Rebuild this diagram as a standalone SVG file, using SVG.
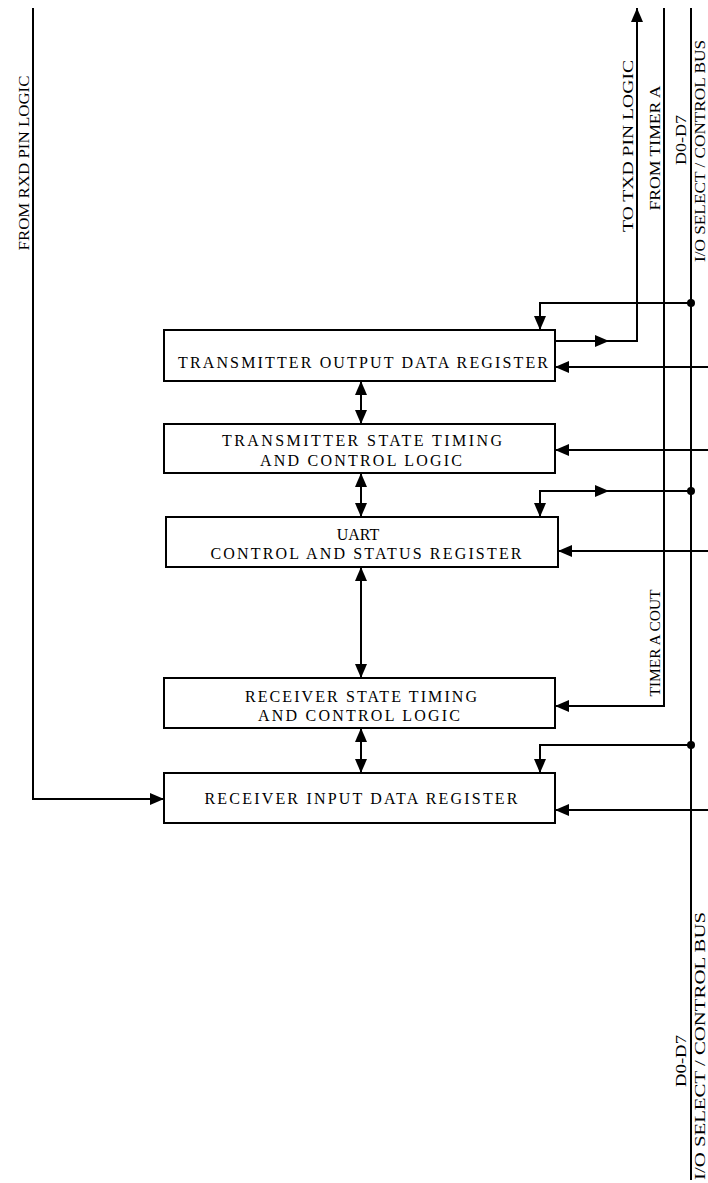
<svg xmlns="http://www.w3.org/2000/svg" width="708" height="1183" viewBox="0 0 708 1183">
<style>
.box{fill:#fff;stroke:#000;stroke-width:2}
.ln{fill:none;stroke:#000;stroke-width:2}
.t{font-family:"Liberation Serif","Times New Roman",serif;font-size:14px;fill:#000;text-anchor:middle}
.b{font-size:16px}
</style>
<defs>
<marker id="ah" markerUnits="userSpaceOnUse" markerWidth="14" markerHeight="12" refX="14" refY="6" orient="auto-start-reverse" viewBox="0 0 14 12">
<path d="M0,0 L14,6 L0,12 z" fill="#000"/>
</marker>
</defs>
<rect width="708" height="1183" fill="#fff"/>
<g id="connectors">
<path class="ln" d="M33,8 V799 H164" marker-end="url(#ah)"/>
<path class="ln" d="M555,341 H609" marker-end="url(#ah)"/>
<path class="ln" d="M608,341 H637 V8" marker-end="url(#ah)"/>
<path class="ln" d="M664,8 V706 H555" marker-end="url(#ah)"/>
<path class="ln" d="M691,8 V1180"/>
<circle cx="691" cy="303" r="4" fill="#000"/>
<circle cx="691" cy="491" r="4" fill="#000"/>
<circle cx="691" cy="745" r="4" fill="#000"/>
<path class="ln" d="M691,303 H540 V330" marker-end="url(#ah)"/>
<path class="ln" d="M708,367 H555" marker-end="url(#ah)"/>
<path class="ln" d="M708,450 H555" marker-end="url(#ah)"/>
<path class="ln" d="M540,517 V491 H609" marker-start="url(#ah)" marker-end="url(#ah)"/>
<path class="ln" d="M608,491 H691"/>
<path class="ln" d="M708,551 H558" marker-end="url(#ah)"/>
<path class="ln" d="M691,745 H540 V773" marker-end="url(#ah)"/>
<path class="ln" d="M708,810 H555" marker-end="url(#ah)"/>
<path class="ln" d="M361,381 V424" marker-start="url(#ah)" marker-end="url(#ah)"/>
<path class="ln" d="M361,473 V517" marker-start="url(#ah)" marker-end="url(#ah)"/>
<path class="ln" d="M361,567 V678" marker-start="url(#ah)" marker-end="url(#ah)"/>
<path class="ln" d="M361,728 V773" marker-start="url(#ah)" marker-end="url(#ah)"/>
</g>
<g id="labels">
<text class="t" transform="translate(29,163) rotate(-90)" textLength="175" lengthAdjust="spacingAndGlyphs">FROM RXD PIN LOGIC</text>
<text class="t" transform="translate(633,146) rotate(-90)" textLength="172" lengthAdjust="spacingAndGlyphs">TO TXD PIN LOGIC</text>
<text class="t" transform="translate(660,148) rotate(-90)" textLength="125" lengthAdjust="spacingAndGlyphs">FROM TIMER A</text>
<text class="t" transform="translate(686,140) rotate(-90)" textLength="50" lengthAdjust="spacingAndGlyphs">D0-D7</text>
<text class="t" transform="translate(705,151) rotate(-90)" textLength="222" lengthAdjust="spacingAndGlyphs">I/O SELECT / CONTROL BUS</text>
<text class="t" transform="translate(660,643) rotate(-90)" textLength="107" lengthAdjust="spacingAndGlyphs">TIMER A COUT</text>
<text class="t" transform="translate(686,1061) rotate(-90)" textLength="52" lengthAdjust="spacingAndGlyphs">D0-D7</text>
<text class="t" transform="translate(705,1046) rotate(-90)" textLength="268" lengthAdjust="spacingAndGlyphs">I/O SELECT / CONTROL BUS</text>
</g>
<g id="n1">
<rect class="box" x="164" y="330" width="391" height="51"/>
<text class="t b" x="363" y="368" textLength="370" lengthAdjust="spacing">TRANSMITTER OUTPUT DATA REGISTER</text>
</g>
<g id="n2">
<rect class="box" x="164" y="424" width="391" height="49"/>
<text class="t b" x="362" y="446" textLength="280" lengthAdjust="spacing">TRANSMITTER STATE TIMING</text>
<text class="t b" x="361" y="466" textLength="202" lengthAdjust="spacing">AND CONTROL LOGIC</text>
</g>
<g id="n3">
<rect class="box" x="166" y="517" width="392" height="50"/>
<text class="t b" x="358" y="540">UART</text>
<text class="t b" x="366" y="559" textLength="311" lengthAdjust="spacing">CONTROL AND STATUS REGISTER</text>
</g>
<g id="n4">
<rect class="box" x="164" y="678" width="391" height="50"/>
<text class="t b" x="361" y="702" textLength="232" lengthAdjust="spacing">RECEIVER STATE TIMING</text>
<text class="t b" x="359" y="721" textLength="202" lengthAdjust="spacing">AND CONTROL LOGIC</text>
</g>
<g id="n5">
<rect class="box" x="164" y="773" width="391" height="50"/>
<text class="t b" x="361" y="804" textLength="313" lengthAdjust="spacing">RECEIVER INPUT DATA REGISTER</text>
</g>
</svg>
